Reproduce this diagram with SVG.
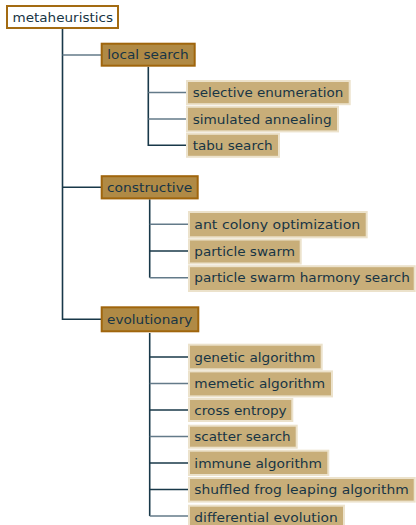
<svg xmlns="http://www.w3.org/2000/svg" width="416" height="525" viewBox="0 0 416 525">
<style>
.t{font-family:"DejaVu Sans","Liberation Sans",sans-serif;font-size:13px;fill:#173545}
.root{fill:#ffffff;stroke:#a36b12;stroke-width:2}
.mid{fill:#b08a45;stroke:#a0650c;stroke-width:2}
.leaf{fill:#c8ae79;stroke:#ece2cb;stroke-width:2}
.c{fill:none;stroke-width:1.6}
.d{stroke:#183849}
.g{stroke:#637a89}
</style>
<rect width="416" height="525" fill="#ffffff"/>
<g id="connectors">
<path class="c d" d="M62.5,29V319.3H101"/>
<path class="c g" d="M62.5,55H101"/>
<path class="c d" d="M62.5,187.3H101"/>
<path class="c d" d="M148.3,66.7V145.3H186"/>
<path class="c g" d="M148.3,92.5H186"/>
<path class="c g" d="M148.3,119H186"/>
<path class="c d" d="M149.7,199.3V277.7"/>
<path class="c g" d="M149.7,277.7H188"/>
<path class="c g" d="M149.7,224.3H188"/>
<path class="c d" d="M149.7,251H188"/>
<path class="c d" d="M149.7,333V516"/>
<path class="c g" d="M149.7,516H188"/>
<path class="c d" d="M149.7,357H188"/>
<path class="c g" d="M149.7,383.5H188"/>
<path class="c d" d="M149.7,410H188"/>
<path class="c g" d="M149.7,436.5H188"/>
<path class="c d" d="M149.7,463H188"/>
<path class="c d" d="M149.7,489.5H188"/>
</g>
<g id="metaheuristics"><rect class="root" x="7" y="6" width="111" height="22"/><text class="t" x="12.5" y="21.7" textLength="100.5" lengthAdjust="spacingAndGlyphs">metaheuristics</text></g>
<g id="local-search"><rect class="mid" x="101.7" y="43.7" width="93" height="22"/><text class="t" x="107.3" y="59.4" textLength="81.4" lengthAdjust="spacingAndGlyphs">local search</text></g>
<g id="constructive"><rect class="mid" x="101.7" y="176.2" width="96" height="22.2"/><text class="t" x="107" y="192" textLength="85.3" lengthAdjust="spacingAndGlyphs">constructive</text></g>
<g id="evolutionary"><rect class="mid" x="101.7" y="307.3" width="96.6" height="24"/><text class="t" x="107" y="324" textLength="85.3" lengthAdjust="spacingAndGlyphs">evolutionary</text></g>
<g id="selective-enumeration"><rect class="leaf" x="187" y="81" width="162.7" height="23.2"/><text class="t" x="192.7" y="97.3" textLength="150.6" lengthAdjust="spacingAndGlyphs">selective enumeration</text></g>
<g id="simulated-annealing"><rect class="leaf" x="187" y="106.8" width="151" height="24.6"/><text class="t" x="192.7" y="123.7" textLength="139" lengthAdjust="spacingAndGlyphs">simulated annealing</text></g>
<g id="tabu-search"><rect class="leaf" x="187" y="133.8" width="92" height="23"/><text class="t" x="192.7" y="150" textLength="80" lengthAdjust="spacingAndGlyphs">tabu search</text></g>
<g id="ant-colony-optimization"><rect class="leaf" x="189" y="212" width="177.7" height="25.3"/><text class="t" x="194.3" y="229" textLength="166" lengthAdjust="spacingAndGlyphs">ant colony optimization</text></g>
<g id="particle-swarm"><rect class="leaf" x="189" y="239.5" width="111.7" height="24"/><text class="t" x="194.3" y="255.7" textLength="100.7" lengthAdjust="spacingAndGlyphs">particle swarm</text></g>
<g id="particle-swarm-harmony-search"><rect class="leaf" x="189" y="266.2" width="225.7" height="24.8"/><text class="t" x="194.3" y="282.4" textLength="215.7" lengthAdjust="spacingAndGlyphs">particle swarm harmony search</text></g>
<g id="genetic-algorithm"><rect class="leaf" x="189" y="344.7" width="132.7" height="24.6"/><text class="t" x="194.3" y="361.7" textLength="121" lengthAdjust="spacingAndGlyphs">genetic algorithm</text></g>
<g id="memetic-algorithm"><rect class="leaf" x="189" y="371.4" width="143" height="25"/><text class="t" x="194.3" y="388.2" textLength="130.7" lengthAdjust="spacingAndGlyphs">memetic algorithm</text></g>
<g id="cross-entropy"><rect class="leaf" x="189" y="399" width="103.3" height="22"/><text class="t" x="194.3" y="414.7" textLength="92.4" lengthAdjust="spacingAndGlyphs">cross entropy</text></g>
<g id="scatter-search"><rect class="leaf" x="189" y="425.7" width="107.7" height="22"/><text class="t" x="194.3" y="441.2" textLength="96.4" lengthAdjust="spacingAndGlyphs">scatter search</text></g>
<g id="immune-algorithm"><rect class="leaf" x="189" y="450.7" width="139.3" height="24.3"/><text class="t" x="194.3" y="467.7" textLength="127.7" lengthAdjust="spacingAndGlyphs">immune algorithm</text></g>
<g id="shuffled-frog-leaping-algorithm"><rect class="leaf" x="189" y="478" width="225.7" height="23.6"/><text class="t" x="194.3" y="494.2" textLength="214.4" lengthAdjust="spacingAndGlyphs">shuffled frog leaping algorithm</text></g>
<g id="differential-evolution"><rect class="leaf" x="189" y="505.7" width="155" height="24"/><text class="t" x="194.3" y="521.7" textLength="143.4" lengthAdjust="spacingAndGlyphs">differential evolution</text></g>
</svg>
